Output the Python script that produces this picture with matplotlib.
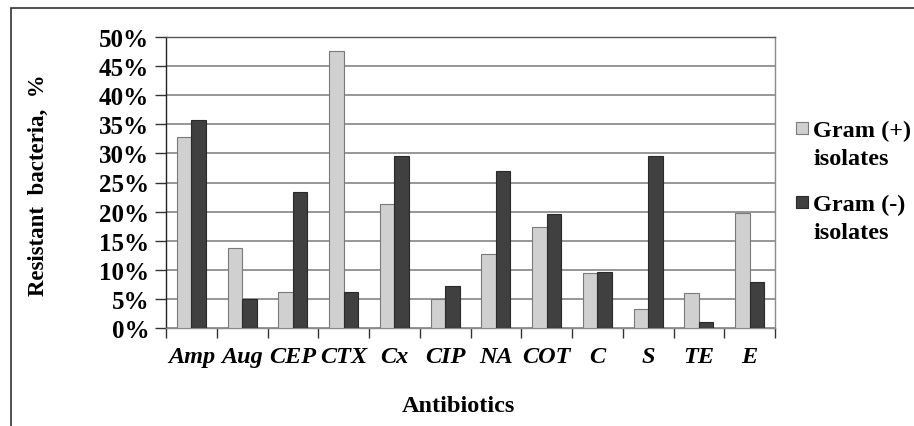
import numpy as np
import matplotlib.pyplot as plt
from matplotlib.patches import Rectangle
from matplotlib.ticker import MultipleLocator, FuncFormatter

# Resistance rates by antibiotic (%)
antibiotics = ["Amp", "Aug", "CEP", "CTX", "Cx", "CIP", "NA", "COT", "C", "S", "TE", "E"]
gram_pos = [32.9, 13.8, 6.1, 47.6, 21.3, 4.9, 12.8, 17.3, 9.5, 3.3, 6.0, 19.7]
gram_neg = [35.7, 4.9, 23.3, 6.2, 29.6, 7.2, 26.9, 19.6, 9.7, 29.6, 1.0, 7.9]
series_labels = ["Gram (+)\nisolates", "Gram (-)\nisolates"]
face_colors = ["#d0d0d0", "#404040"]
edge_colors = ["#7a7a7a", "#2a2a2a"]

plt.rcParams['font.family'] = ['Liberation Serif', 'DejaVu Serif']

W, H = 914, 427
fig = plt.figure(figsize=(W / 100, H / 100), dpi=100)

# outer chart border (runs off the right and bottom edges)
fig.patches.append(Rectangle((11 / W, -0.1), 1.2, (H - 9) / H + 0.1,
                             transform=fig.transFigure, fill=False,
                             edgecolor="#333333", linewidth=1.2))

ax = fig.add_axes([166 / W, (H - 329) / H, (775 - 166) / W, (329 - 38) / H])

x = np.arange(len(antibiotics))
bw = 0.287
ax.bar(x - bw / 2, gram_pos, bw, color=face_colors[0], edgecolor=edge_colors[0],
       linewidth=0.8, zorder=3)
ax.bar(x + bw / 2, gram_neg, bw, color=face_colors[1], edgecolor=edge_colors[1],
       linewidth=0.8, zorder=3)

ax.set_xlim(-0.5, len(antibiotics) - 0.5)
ax.set_ylim(0, 50)
ax.yaxis.set_major_locator(MultipleLocator(5))
ax.yaxis.set_major_formatter(FuncFormatter(lambda v, p: f"{v:.0f}%"))
ax.grid(axis="y", color="#7a7a7a", linewidth=1.1, zorder=0)

# category ticks sit on the boundaries between groups
ax.set_xticks(np.arange(len(antibiotics) + 1) - 0.5)
ax.set_xticklabels([])
ax.set_xticks(x, minor=True)
ax.set_xticklabels(antibiotics, minor=True, fontsize=17.5, fontweight="bold",
                   fontstyle="italic")
ax.tick_params(axis="x", which="major", direction="out", length=7,
               width=1, color="#333333")
ax.tick_params(axis="x", which="minor", length=0, pad=13)
ax.tick_params(axis="y", direction="out", length=8, width=1,
               color="#333333", labelsize=18, pad=4)
for lab in ax.get_yticklabels():
    lab.set_fontweight("bold")

ax.spines["left"].set_color("#222222")
ax.spines["bottom"].set_color("#8a8a8a")
ax.spines["top"].set_color("#555555")
ax.spines["right"].set_color("#8a8a8a")
for s in ax.spines.values():
    s.set_linewidth(1.0)

fig.text(38 / W, 1 - 185 / H, "Resistant  bacteria,  %", rotation=90,
         ha="center", va="center", fontsize=16.5, fontweight="bold")
fig.text(458 / W, 1 - 407 / H, "Antibiotics", ha="center", va="center",
         fontsize=17.5, fontweight="bold")

# legend: square swatch beside the first line of each two-line label
for i, lab in enumerate(series_labels):
    y0 = 129 + i * 74
    fig.patches.append(Rectangle((796 / W, 1 - (y0 + 6) / H), 12 / W, 12 / H,
                                 transform=fig.transFigure,
                                 facecolor=face_colors[i],
                                 edgecolor=edge_colors[i], linewidth=0.8))
    for j, line in enumerate(lab.split("\n")):
        fig.text(813 / W, 1 - (y0 + 28 * j) / H, line, ha="left",
                 va="center_baseline", fontsize=17.5, fontweight="bold")

fig.savefig("out.png", dpi=100)
